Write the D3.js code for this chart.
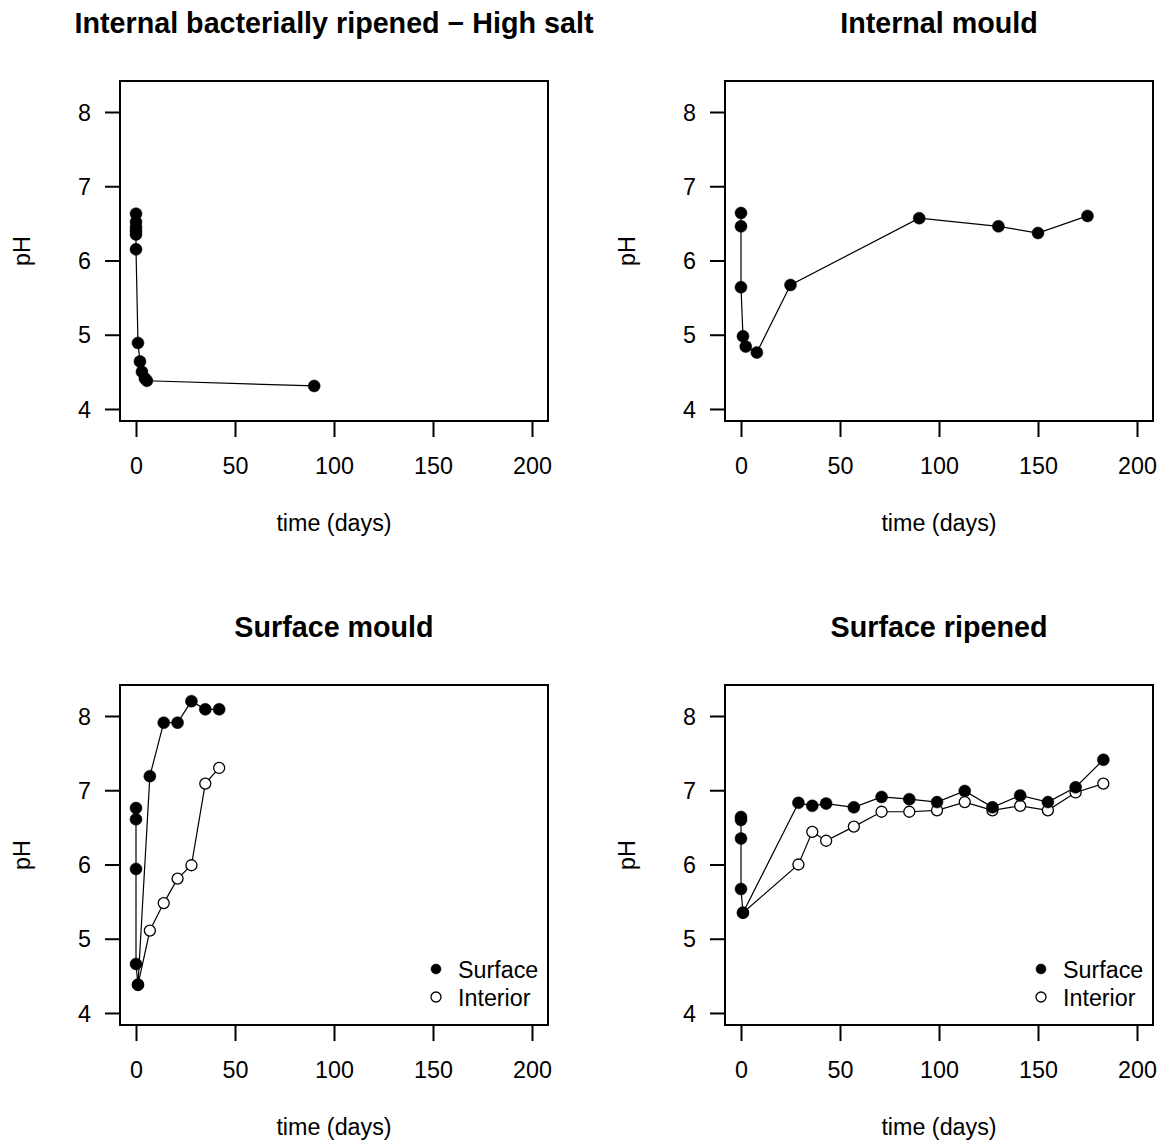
<!DOCTYPE html>
<html>
<head>
<meta charset="utf-8">
<script src="https://cdn.jsdelivr.net/npm/d3@7"></script>
<style>
  body { margin: 0; background: #fff; }
  text { font-family: "Liberation Sans", Arial, sans-serif; fill: #000; }
</style>
</head>
<body>
<svg id="chart" width="1163" height="1142"></svg>
<script>
// ---- Data ----
const titles = ["Internal bacterially ripened \u2212 High salt", "Internal mould", "Surface mould", "Surface ripened"];
const xTicks = [0, 50, 100, 150, 200];
const yTicks = [4, 5, 6, 7, 8];
const legendLabels = ["Surface", "Interior"];

// Panel 1: Internal bacterially ripened - High salt
const p1Days = [0, 0, 0, 0, 0, 0, 1, 2, 3, 4.5, 5.5, 90];
const p1PH   = [6.63, 6.52, 6.45, 6.40, 6.35, 6.15, 4.89, 4.64, 4.50, 4.41, 4.38, 4.31];

// Panel 2: Internal mould
const p2Days = [0, 0, 0, 1, 2.4, 8, 25, 90, 130, 150, 175];
const p2PH   = [6.64, 6.46, 5.64, 4.98, 4.84, 4.76, 5.67, 6.57, 6.46, 6.37, 6.60];

// Panel 3: Surface mould
const p3SurfDays = [0, 0, 0, 0, 1, 7, 14, 21, 28, 35, 42];
const p3SurfPH   = [6.76, 6.61, 5.94, 4.66, 4.38, 7.19, 7.91, 7.91, 8.20, 8.09, 8.09];
const p3IntDays  = [1, 7, 14, 21, 28, 35, 42];
const p3IntPH    = [4.38, 5.11, 5.48, 5.81, 5.99, 7.09, 7.30];

// Panel 4: Surface ripened
const p4SurfDays = [0, 0, 0, 0, 1, 29, 36, 43, 57, 71, 85, 99, 113, 127, 141, 155, 169, 183];
const p4SurfPH   = [6.64, 6.60, 6.35, 5.67, 5.35, 6.83, 6.79, 6.82, 6.77, 6.91, 6.88, 6.84, 6.99, 6.77, 6.93, 6.84, 7.04, 7.41];
const p4IntDays  = [1, 29, 36, 43, 57, 71, 85, 99, 113, 127, 141, 155, 169, 183];
const p4IntPH    = [5.35, 6.00, 6.44, 6.32, 6.51, 6.71, 6.71, 6.73, 6.84, 6.73, 6.79, 6.73, 6.97, 7.09];

const panels = [
  { title: titles[0], ox: 0,   oy: 0,   series: [{ x: p1Days, y: p1PH, filled: true }], legend: false },
  { title: titles[1], ox: 605, oy: 0,   series: [{ x: p2Days, y: p2PH, filled: true }], legend: false },
  { title: titles[2], ox: 0,   oy: 604, series: [{ x: p3IntDays, y: p3IntPH, filled: false }, { x: p3SurfDays, y: p3SurfPH, filled: true }], legend: true },
  { title: titles[3], ox: 605, oy: 604, series: [{ x: p4IntDays, y: p4IntPH, filled: false }, { x: p4SurfDays, y: p4SurfPH, filled: true }], legend: true }
];

const svg = d3.select("#chart");
const box = { left: 120, right: 548, top: 81, bottom: 421 };
const fs = "23.3px";

panels.forEach(p => {
  const g = svg.append("g").attr("transform", `translate(${p.ox},${p.oy})`);
  const x = d3.scaleLinear().domain([-8.08, 208.08]).range([box.left, box.right]);
  const y = d3.scaleLinear().domain([3.838, 8.4175]).range([box.bottom, box.top]);
  const cx = (box.left + box.right) / 2;
  const cy = (box.top + box.bottom) / 2;

  // title
  g.append("text").attr("x", cx).attr("y", 33).attr("text-anchor", "middle")
    .style("font-size", "28.7px").style("font-weight", "bold").text(p.title);

  // axes
  const xAxis = d3.axisBottom(x).tickValues(xTicks).tickSize(16).tickPadding(20).tickFormat(d3.format("d"));
  const gx = g.append("g").attr("transform", `translate(0,${box.bottom})`).call(xAxis);
  const yAxis = d3.axisLeft(y).tickValues(yTicks).tickSize(15).tickPadding(14).tickFormat(d3.format("d"));
  const gy = g.append("g").attr("transform", `translate(${box.left},0)`).call(yAxis);
  [gx, gy].forEach(a => {
    a.select(".domain").remove();
    a.selectAll(".tick line").attr("stroke", "#000").attr("stroke-width", 2);
    a.selectAll(".tick text").style("font-size", fs).style("font-family", "'Liberation Sans', Arial, sans-serif").attr("fill", "#000");
  });
  gx.selectAll(".tick text").attr("dy", "0.71em");
  gy.selectAll(".tick text").attr("dy", "0.35em");

  // axis labels
  g.append("text").attr("x", cx).attr("y", 531).attr("text-anchor", "middle")
    .style("font-size", fs).text("time (days)");
  g.append("text").attr("transform", `translate(30,${cy}) rotate(-90)`).attr("text-anchor", "middle")
    .style("font-size", fs).text("pH");

  // box
  g.append("rect").attr("x", box.left).attr("y", box.top)
    .attr("width", box.right - box.left).attr("height", box.bottom - box.top)
    .attr("fill", "none").attr("stroke", "#000").attr("stroke-width", 2);

  // series
  const line = d3.line().x(d => x(d[0])).y(d => y(d[1]));
  p.series.forEach(s => {
    const pts = s.x.map((d, i) => [d, s.y[i]]);
    g.append("path").datum(pts).attr("d", line).attr("fill", "none")
      .attr("stroke", "#000").attr("stroke-width", 1.2);
  });
  p.series.forEach(s => {
    const pts = s.x.map((d, i) => [d, s.y[i]]);
    g.selectAll(null).data(pts).enter().append("circle")
      .attr("cx", d => x(d[0])).attr("cy", d => y(d[1]))
      .attr("r", s.filled ? 6 : 5.5)
      .attr("fill", s.filled ? "#000" : "#fff")
      .attr("stroke", "#000").attr("stroke-width", s.filled ? 0.5 : 1.3);
  });

  // legend
  if (p.legend) {
    legendLabels.forEach((lab, i) => {
      const ly = 969 - 604 + i * 28;
      g.append("circle").attr("cx", 436).attr("cy", ly).attr("r", 5)
        .attr("fill", i === 0 ? "#000" : "#fff").attr("stroke", "#000").attr("stroke-width", i === 0 ? 0.5 : 1.3);
      g.append("text").attr("x", 458).attr("y", ly + 1).attr("dy", "0.35em")
        .style("font-size", fs).text(lab);
    });
  }
});
</script>
</body>
</html>
